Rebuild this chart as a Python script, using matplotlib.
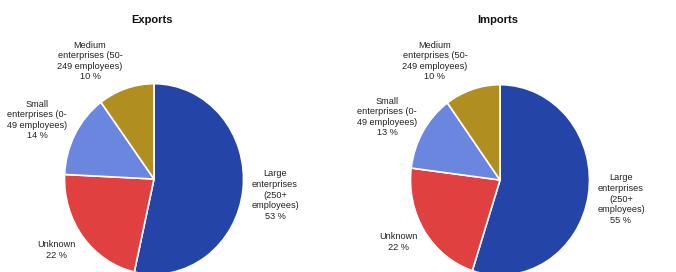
import matplotlib.pyplot as plt

# Données
categories = ["Large\nenterprises\n(250+\nemployees)", "Unknown",
              "Small\nenterprises (0-\n49 employees)",
              "Medium\nenterprises (50-\n249 employees)"]
exports = [53, 22, 14, 10]
imports = [55, 22, 13, 10]
titles = ["Exports", "Imports"]
colors = ["#2444a8", "#e04040", "#6a86de", "#b08f20"]

plt.rcParams['font.family'] = ['Liberation Sans', 'DejaVu Sans']

W, H = 676, 272
stretch = 1.065  # la source est un peu étirée verticalement

fig = plt.figure(figsize=(W / 100, H / 100), dpi=100)
ax = fig.add_axes([0, 0, 1, 1])


def px(x, y):
    # pixel de l'image -> coordonnées figure
    return x / W, 1 - y / H


# centres des camemberts (pixels) et position des étiquettes
centers = [(154, 179), (500, 180)]
label_pos = [
    [(275, 195), (56, 250), (37, 120), (90, 61)],
    [(621, 199), (398, 242), (387, 117), (435, 61)],
]
title_pos = [(152, 20), (498, 20)]

for values, title, c, lp, tp in zip([exports, imports], titles, centers,
                                    label_pos, title_pos):
    ax.pie(values, colors=colors, startangle=90, counterclock=False,
           radius=89.5, center=(c[0], (H - c[1]) / stretch),
           wedgeprops=dict(edgecolor="white", linewidth=1.2))
    for cat, v, (x, y) in zip(categories, values, lp):
        fig.text(*px(x, y), f"{cat}\n{v} %", ha="center", va="center",
                 fontsize=6.6, color="#222222", linespacing=1.22)
    fig.text(*px(*tp), title, ha="center", va="center", fontsize=8,
             fontweight="bold", color="#111111")

ax.set_xlim(0, W)
ax.set_ylim(0, H / stretch)
ax.set_aspect("auto")
ax.axis("off")

fig.savefig("out.png", dpi=100)
